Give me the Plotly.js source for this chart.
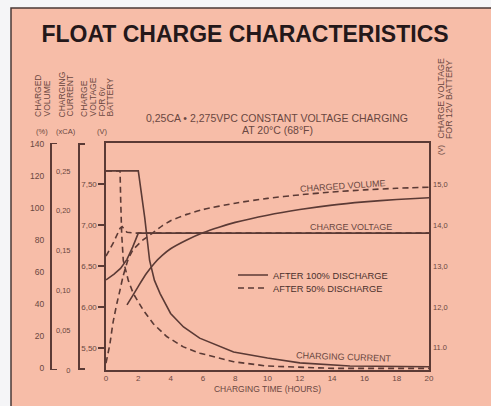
<!DOCTYPE html>
<html>
<head>
<meta charset="utf-8">
<script src="https://cdn.plot.ly/plotly-3.0.1.min.js"></script>
<style>html,body{margin:0;padding:0;background:#f5f5f7;}#chart{width:491px;height:406px;}</style>
</head>
<body>
<div id="chart"></div>
<script>
// ---- data ----
const xTickVals = [0, 2, 4, 6, 8, 10, 12, 14, 16, 18, 20];

// charge voltage for 6V battery (V)
const hoursVoltSolid = [0, 0.5, 0.9, 1.3, 1.65, 2.0, 20];
const voltSolid      = [6.33, 6.40, 6.47, 6.58, 6.73, 6.90, 6.90];
const hoursVoltDash  = [0, 0.45, 0.87, 1.0, 1.3, 1.9, 20];
const voltDash       = [6.62, 6.78, 6.96, 6.98, 6.91, 6.90, 6.90];

// charging current (xCA)
const hoursCurSolid = [0, 2.0, 2.4, 2.7, 3.0, 3.35, 4.0, 4.8, 5.8, 7.9, 10, 12, 15.1, 20];
const curSolid      = [0.25, 0.25, 0.191, 0.1375, 0.1125, 0.096, 0.071, 0.054, 0.040, 0.0225, 0.015, 0.009, 0.005, 0.004];
const hoursCurDash  = [0, 0.87, 0.91, 0.97, 1.07, 1.38, 1.69, 2.31, 2.93, 3.76, 4.79, 5.82, 7.9, 9.95, 14.1, 20];
const curDash       = [0.25, 0.25, 0.2125, 0.171, 0.1375, 0.1125, 0.096, 0.075, 0.058, 0.042, 0.029, 0.021, 0.0104, 0.005, 0.002, 0.002];

// charged volume (%)
const hoursCvSolid = [1.3, 1.7, 2.0, 2.5, 3.0, 3.5, 4.0, 5.0, 6.0, 7.0, 8.0, 10, 12, 14, 16, 18, 20];
const cvSolid      = [39.4, 46, 51, 59, 65.5, 70.5, 74.5, 80, 84.5, 88, 91, 95.5, 99, 101.8, 103.8, 105.3, 106.4];
const hoursCvDash  = [0, 0.25, 0.43, 0.68, 0.87, 1.05, 1.36, 1.67, 2.29, 2.9, 3.5, 4.0, 5.0, 6.0, 8.0, 10, 12, 14, 16, 18, 20];
const cvDash       = [3, 15.6, 28, 40.6, 48.8, 57, 67.5, 73.75, 80, 84.4, 89, 92, 96, 99, 103, 106, 108.2, 110, 111.3, 112.3, 113];

// tick labels
const voltTickVals  = [5.5, 6.0, 6.5, 7.0, 7.5];
const voltTickText  = ['5,50', '6,00', '6,50', '7,00', '7,50'];
const volt12TickVals = [11, 12, 13, 14, 15];
const volt12TickText = ['11.0', '12,0', '13,0', '14,0', '15,0'];
const pctTickVals   = [0, 20, 40, 60, 80, 100, 120, 140];
const curTickVals   = [0, 0.05, 0.10, 0.15, 0.20, 0.25];
const curTickText   = ['0', '0,05', '0,10', '0,15', '0,20', '0,25'];

// ---- styling ----
const W = 491, H = 406;
const px = v => v / W;
const py = v => 1 - v / H;
const LINE = '#5b3a35';
const TXT = '#6a4741';
const FONT = 'Liberation Sans, Arial, sans-serif';
const dash = '6px,4px';

const traces = [
  {x: hoursVoltSolid, y: voltSolid, yaxis: 'y', name: 'AFTER 100% DISCHARGE', legend: 'legend', showlegend: true,
   mode: 'lines', line: {color: LINE, width: 1.6}},
  {x: hoursVoltDash, y: voltDash, yaxis: 'y', name: 'AFTER 50% DISCHARGE', legend: 'legend2', showlegend: true,
   mode: 'lines', line: {color: LINE, width: 1.6, dash: dash}},
  {x: hoursCurSolid, y: curSolid, yaxis: 'y4', showlegend: false, mode: 'lines', line: {color: LINE, width: 1.6}},
  {x: hoursCurDash, y: curDash, yaxis: 'y4', showlegend: false, mode: 'lines', line: {color: LINE, width: 1.6, dash: dash}},
  {x: hoursCvSolid, y: cvSolid, yaxis: 'y3', showlegend: false, mode: 'lines', line: {color: LINE, width: 1.6, shape: 'spline', smoothing: 0.6}},
  {x: hoursCvDash, y: cvDash, yaxis: 'y3', showlegend: false, mode: 'lines', line: {color: LINE, width: 1.6, dash: dash, shape: 'spline', smoothing: 0.6}},
  // empty trace so that the 12V scale (right axis) gets drawn
  {x: [null], y: [null], yaxis: 'y2', showlegend: false, mode: 'lines', hoverinfo: 'skip'}
];

const yDom = [1 - 370 / H, 1 - 143 / H];
const tickFont = {family: FONT, size: 8, color: TXT};

function rot(text, xc, ybottom, size) {
  return {text: text, x: px(xc), y: py(ybottom), xref: 'paper', yref: 'paper', showarrow: false,
          textangle: -90, xanchor: 'center', yanchor: 'bottom', borderpad: 0,
          font: {family: FONT, size: size || 8.5, color: TXT}};
}
function lab(text, xc, yc, size, angle) {
  return {text: text, x: px(xc), y: py(yc), xref: 'paper', yref: 'paper', showarrow: false,
          xanchor: 'center', yanchor: 'middle', borderpad: 0, textangle: angle || 0,
          font: {family: FONT, size: size || 8, color: TXT}};
}

const layout = {
  width: W, height: H,
  margin: {l: 0, r: 0, t: 0, b: 0},
  paper_bgcolor: '#f5f5f7',
  plot_bgcolor: 'rgba(0,0,0,0)',
  title: {text: 'FLOAT CHARGE CHARACTERISTICS', x: px(245), y: py(33.5), xref: 'paper', yref: 'paper',
          xanchor: 'center', yanchor: 'middle',
          font: {family: FONT, size: 23, weight: 'bold', color: '#24181a'}},
  shapes: [
    {type: 'rect', xref: 'paper', yref: 'paper', x0: px(11), x1: 1.02, y0: -0.02, y1: py(8), layer: 'below',
     fillcolor: '#f7bda8', line: {color: '#4a3836', width: 1.5}}
  ],
  xaxis: {domain: [px(106), px(429)], range: [0, 20], tickvals: xTickVals, ticks: '',
          showline: true, mirror: true, linecolor: LINE, linewidth: 1.6, showgrid: false, zeroline: false,
          tickfont: tickFont, fixedrange: true,
          title: {text: 'CHARGING TIME (HOURS)', standoff: 4, font: {family: FONT, size: 8.5, color: TXT}}},
  yaxis: {domain: yDom, range: [5.23, 8.0], tickvals: voltTickVals, ticktext: voltTickText,
          ticks: 'outside', ticklen: 6, tickwidth: 1.6, tickcolor: LINE,
          showline: true, mirror: true, linecolor: LINE, linewidth: 1.6, showgrid: false, zeroline: false,
          tickfont: tickFont},
  yaxis2: {domain: yDom, overlaying: 'y', side: 'right', anchor: 'x', range: [10.46, 16.0],
           tickvals: volt12TickVals, ticktext: volt12TickText, ticks: '', showline: false, ticklabelstandoff: 3,
           showgrid: false, zeroline: false, tickfont: {family: FONT, size: 7.5, color: TXT}},
  yaxis3: {domain: yDom, overlaying: 'y', anchor: 'free', position: px(50), side: 'left',
           range: [-1.25, 140.6], tickvals: pctTickVals, ticks: '', ticklabelstandoff: 4,
           showline: true, linecolor: LINE, linewidth: 1.6, showgrid: false, zeroline: false,
           tickfont: {family: FONT, size: 8.5, color: TXT},
           minor: {tickvals: [-1.0, 140.4], ticks: 'inside', ticklen: 5, tickwidth: 1.6, tickcolor: LINE, showgrid: false}},
  yaxis4: {domain: yDom, overlaying: 'y', anchor: 'free', position: px(78), side: 'left',
           range: [0, 0.285], tickvals: curTickVals, ticktext: curTickText, ticks: '', ticklabelstandoff: 6,
           showline: true, linecolor: LINE, linewidth: 1.6, showgrid: false, zeroline: false,
           tickfont: {family: FONT, size: 7.5, color: TXT},
           minor: {tickvals: [0.001, 0.284], ticks: 'inside', ticklen: 5, tickwidth: 1.6, tickcolor: LINE, showgrid: false}},
  legend: {x: px(233), y: py(275), xanchor: 'left', yanchor: 'middle', bgcolor: 'rgba(0,0,0,0)',
           font: {family: FONT, size: 9.3, color: '#4a302c'}, borderwidth: 0},
  legend2: {x: px(233), y: py(288), xanchor: 'left', yanchor: 'middle', bgcolor: 'rgba(0,0,0,0)',
           font: {family: FONT, size: 9.3, color: '#4a302c'}, borderwidth: 0},
  annotations: [
    lab('0,25CA • 2,275VPC CONSTANT VOLTAGE CHARGING', 277, 118, 10.5),
    lab('AT 20°C (68°F)', 277, 130, 10.5),
    rot('CHARGED', 38.5, 118), rot('VOLUME', 46.5, 118),
    rot('CHARGING', 61.5, 118), rot('CURRENT', 69.5, 118),
    rot('CHARGE', 84.5, 118), rot('VOLTAGE', 93, 118), rot('FOR 6v', 101.5, 118), rot('BATTERY', 110, 118),
    lab('(%)', 42, 131, 7.5), lab('(xCA)', 66, 131, 7.5), lab('(V)', 102, 131, 7.5),
    rot('CHARGE VOLTAGE', 440.5, 140, 8.8), rot('FOR 12V BATTERY', 448.5, 140, 8.8),
    lab('(V)', 440, 150, 7.5, -90),
    lab('CHARGED VOLUME', 343, 186, 9, -4),
    lab('CHARGE VOLTAGE', 351, 227, 9),
    lab('CHARGING CURRENT', 344, 357, 9, 2)
  ]
};

Plotly.newPlot('chart', traces, layout, {displayModeBar: false, staticPlot: true});
</script>
</body>
</html>
